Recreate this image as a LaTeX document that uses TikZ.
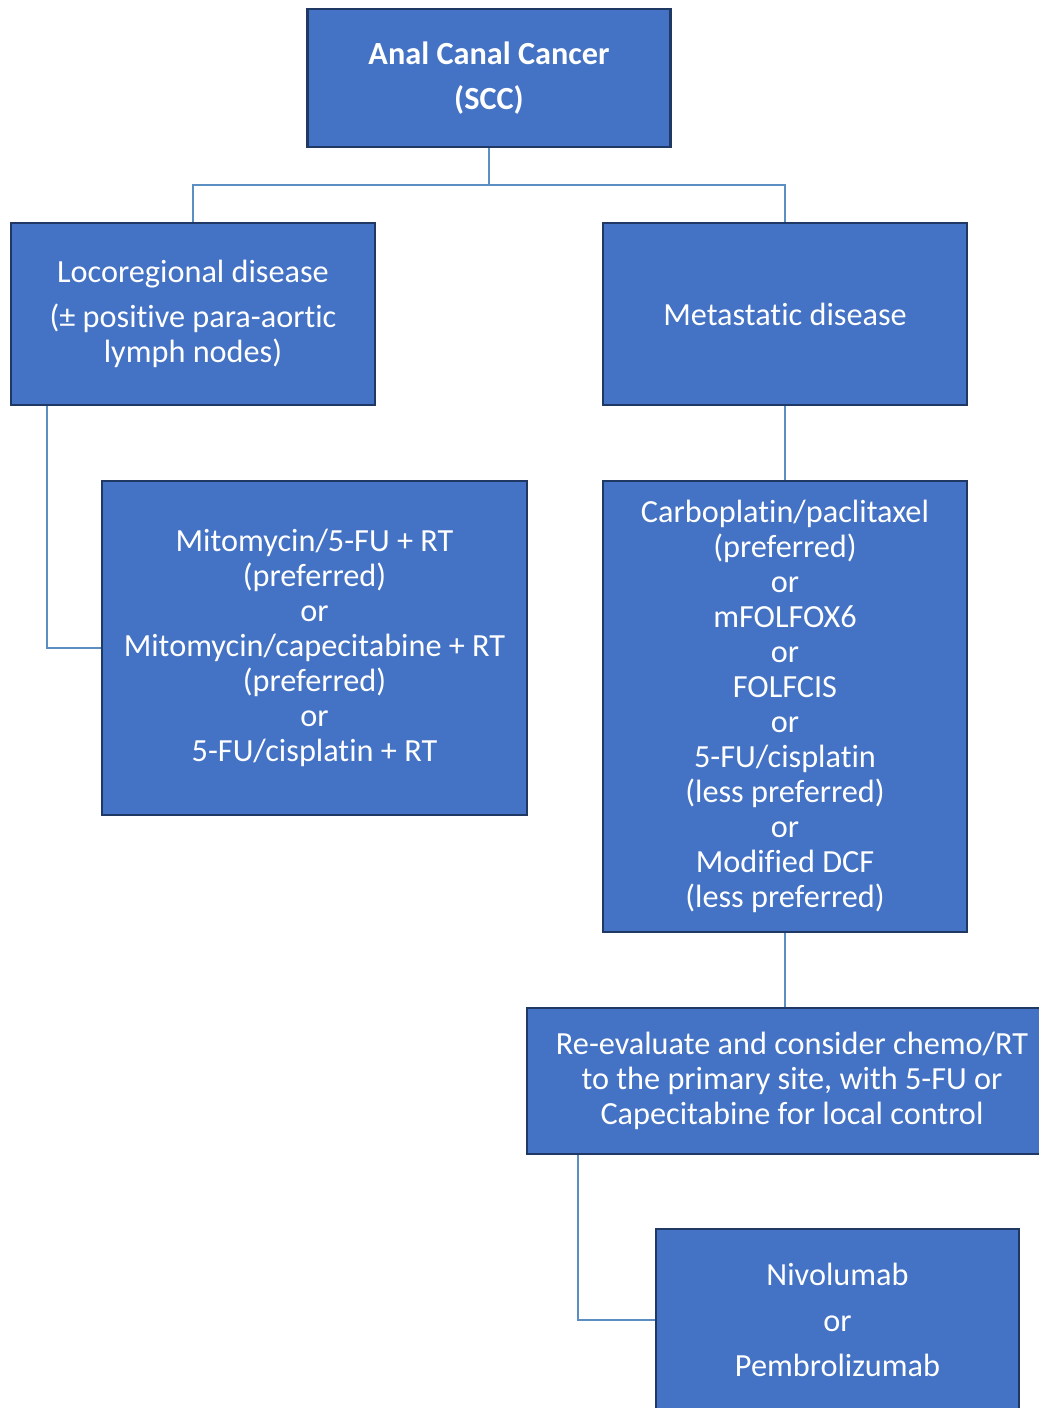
\documentclass[tikz,border=0pt]{standalone}
\usepackage{fontspec}
\setmainfont{Carlito}[Ligatures={NoCommon,NoContextual}]
\definecolor{boxfill}{HTML}{4472C4}
\definecolor{boxline}{HTML}{1F3864}
\definecolor{conn}{HTML}{5B8FC4}
\begin{document}
\begin{tikzpicture}[x=0.75pt,y=-0.75pt,
  box/.style={draw=boxline,line width=1.9pt,fill=boxfill,text=white,align=center,
    font=\fontsize{24.2pt}{26.25pt}\selectfont,inner sep=0pt},
  link/.style={draw=conn,line width=1.6pt}]
\useasboundingbox (0,0) rectangle (1038,1408);
\node[box,minimum width=272pt,minimum height=103.5pt,font=\fontsize{24.2pt}{26.25pt}\selectfont\bfseries] (top) at (489,78) {Anal Canal Cancer\\[7.5pt](SCC)};
\node[box,minimum width=273pt,minimum height=136.5pt] (loco) at (193,314) {Locoregional disease\\[8pt](± positive para-aortic\\lymph nodes)};
\node[box,minimum width=273pt,minimum height=136.5pt] (meta) at (785,314) {Metastatic disease};
\node[box,minimum width=318.75pt,minimum height=250.5pt] (mito) at (314.5,648) {Mitomycin/5-FU + RT\\(preferred)\\or\\Mitomycin/capecitabine + RT\\(preferred)\\or\\5-FU/cisplatin + RT};
\node[box,minimum width=273pt,minimum height=338.25pt] (carbo) at (785,706.5) {Carboplatin/paclitaxel\\(preferred)\\or\\mFOLFOX6\\or\\FOLFCIS\\or\\5-FU/cisplatin\\(less preferred)\\or\\Modified DCF\\(less preferred)};
\node[box,minimum width=397.5pt,minimum height=109.5pt] (reeval) at (792,1081) {Re-evaluate and consider chemo/RT\\to the primary site, with 5-FU or\\Capecitabine for local control};
\node[box,minimum width=272.25pt,minimum height=136.5pt] (nivo) at (837.5,1320) {Nivolumab\\[8pt]or\\[8pt]Pembrolizumab};
\coordinate (split) at (489,185);
\draw[link] (top.south) -- (split) -| (loco.north);
\draw[link] (split) -| (meta.north);
\draw[link] ([xshift=27.75pt]loco.south west) |- (mito.west);
\draw[link] (meta.south) -- (carbo.north);
\draw[link] (carbo.south) -- (carbo.south |- reeval.north);
\draw[link] ([xshift=39pt]reeval.south west) |- (nivo.west);
\end{tikzpicture}
\end{document}
